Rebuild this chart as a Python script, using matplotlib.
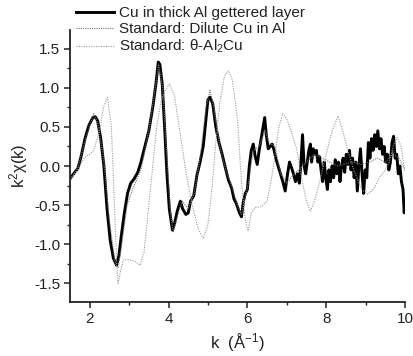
import matplotlib
matplotlib.use('Agg')
import matplotlib.pyplot as plt
from matplotlib.ticker import MultipleLocator

# EXAFS data
k_sample = [1.52, 1.62, 1.70, 1.78, 1.88, 1.98, 2.08, 2.14, 2.20, 2.28, 2.36, 2.44, 2.52, 2.60,
            2.68, 2.74, 2.80, 2.88, 2.96, 3.04, 3.12, 3.22, 3.30, 3.40, 3.50, 3.60, 3.68, 3.74,
            3.78, 3.84, 3.90, 3.96, 4.02, 4.10, 4.16, 4.22, 4.30, 4.36, 4.44, 4.50, 4.56, 4.64,
            4.72, 4.80, 4.88, 4.95, 5.00, 5.05, 5.12, 5.20, 5.28, 5.36, 5.44, 5.52, 5.60, 5.66,
            5.72, 5.80, 5.85, 5.90, 5.95, 6.00, 6.05, 6.10, 6.15, 6.20, 6.25, 6.30, 6.35, 6.40,
            6.44, 6.48, 6.53, 6.58, 6.63, 6.68, 6.72, 6.78, 6.84, 6.90, 6.96, 7.02, 7.07, 7.12,
            7.17, 7.22, 7.27, 7.32, 7.36, 7.40, 7.44, 7.48, 7.52, 7.56, 7.60, 7.63, 7.67, 7.71,
            7.75, 7.79, 7.83, 7.87, 7.91, 7.95, 7.99, 8.03, 8.07, 8.11, 8.15, 8.19, 8.23, 8.27,
            8.31, 8.35, 8.39, 8.43, 8.47, 8.51, 8.55, 8.59, 8.63, 8.67, 8.71, 8.75, 8.79, 8.83,
            8.87, 8.91, 8.95, 8.99, 9.03, 9.07, 9.11, 9.15, 9.19, 9.23, 9.27, 9.31, 9.35, 9.39,
            9.43, 9.47, 9.51, 9.55, 9.59, 9.63, 9.67, 9.71, 9.75, 9.79, 9.83, 9.87, 9.91, 9.95,
            9.98, 10.0]
chi_sample = [-0.15, -0.08, -0.03, 0.12, 0.35, 0.52, 0.62, 0.63, 0.58, 0.35, 0.0, -0.55, -0.95, -1.18,
              -1.27, -1.15, -0.9, -0.6, -0.35, -0.22, -0.17, -0.08, 0.05, 0.25, 0.45, 0.75, 1.05, 1.33,
              1.3, 1.05, 0.5, -0.1, -0.55, -0.82, -0.72, -0.58, -0.45, -0.55, -0.62, -0.6, -0.45, -0.38,
              -0.12, 0.05, 0.25, 0.6, 0.85, 0.88, 0.8, 0.5, 0.3, 0.15, -0.02, -0.18, -0.28, -0.42,
              -0.48, -0.6, -0.65, -0.45, -0.35, -0.3, 0.0, 0.2, 0.28, 0.12, 0.02, 0.2, 0.35, 0.5,
              0.62, 0.4, 0.22, 0.25, 0.28, 0.2, 0.1, 0.0, -0.1, -0.2, -0.32, -0.1, 0.05, -0.02,
              -0.1, -0.2, -0.1, -0.22, 0.05, 0.4, 0.0, -0.1, 0.05, 0.2, 0.28, 0.05, 0.22, 0.15,
              0.2, 0.05, 0.12, -0.05, -0.2, 0.05, -0.15, -0.3, -0.05, -0.2, 0.0, -0.15, 0.08, -0.1,
              0.05, -0.2, 0.0, 0.1, -0.08, 0.15, 0.02, 0.2, -0.05, 0.1, -0.15, 0.05, -0.32, 0.0,
              0.22, -0.1, -0.35, -0.05, -0.15, 0.3, 0.1, 0.35, 0.2, 0.4, 0.25, 0.45, 0.22, 0.35,
              0.15, 0.25, 0.05, 0.15, -0.05, 0.05, 0.3, 0.38, 0.1, 0.15, -0.1, 0.0, -0.2, -0.3,
              -0.6, -0.45]

k_dilute = [1.52, 1.7, 1.9, 2.1, 2.2, 2.35, 2.5, 2.65, 2.72, 2.8, 2.95, 3.1, 3.3, 3.5, 3.65,
            3.75, 3.85, 3.95, 4.05, 4.12, 4.25, 4.35, 4.5, 4.65, 4.8, 4.95, 5.05, 5.15, 5.3,
            5.45, 5.6, 5.75, 5.85, 5.95, 6.05, 6.15, 6.3, 6.45, 6.55, 6.7, 6.85, 7.0, 7.15,
            7.3, 7.5, 7.7, 7.9, 8.1, 8.3, 8.5, 8.7, 8.9, 9.1, 9.3, 9.5, 9.7, 9.85, 10.0]
chi_dilute = [-0.17, -0.02, 0.35, 0.67, 0.55, 0.1, -0.7, -1.25, -1.3, -1.05, -0.5, -0.28, -0.05, 0.45, 0.95,
              1.3, 1.0, 0.2, -0.6, -0.85, -0.6, -0.45, -0.55, -0.35, 0.1, 0.75, 0.97, 0.75, 0.25,
              -0.05, -0.25, -0.5, -0.62, -0.4, -0.15, 0.2, 0.25, 0.45, 0.3, 0.25, -0.1, -0.22, -0.12,
              -0.05, 0.05, 0.15, 0.1, 0.05, 0.0, 0.03, 0.05, 0.02, 0.05, 0.1, 0.05, 0.15, 0.1, -0.05]

k_theta = [1.5, 1.7, 1.85, 2.0, 2.1, 2.25, 2.35, 2.45, 2.55, 2.62, 2.68, 2.72, 2.78, 2.85, 3.0,
           3.15, 3.28, 3.38, 3.5, 3.6, 3.7, 3.8, 3.9, 4.02, 4.15, 4.3, 4.45, 4.6, 4.75, 4.88,
           5.0, 5.1, 5.2, 5.3, 5.42, 5.52, 5.62, 5.75, 5.85, 5.95, 6.02, 6.1, 6.2, 6.35, 6.5,
           6.6, 6.7, 6.8, 6.9, 7.0, 7.12, 7.25, 7.38, 7.5, 7.6, 7.7, 7.85, 8.0, 8.15, 8.3,
           8.42, 8.55, 8.7, 8.9, 9.05, 9.2, 9.35, 9.5, 9.6, 9.7, 9.8, 9.9, 10.0]
chi_theta = [-0.17, -0.05, 0.1, 0.15, 0.2, 0.45, 0.75, 0.88, 0.5, -0.4, -1.2, -1.5, -1.35, -1.2, -1.2,
             -1.22, -1.27, -1.1, -0.5, 0.0, 0.5, 0.8, 0.95, 1.05, 0.9, 0.4, -0.1, -0.5, -0.8, -0.93,
             -0.75, -0.3, 0.3, 0.8, 1.15, 1.22, 1.1, 0.6, -0.2, -0.7, -0.83, -0.6, -0.53, -0.52, -0.45,
             -0.2, 0.13, 0.5, 0.67, 0.6, 0.43, 0.22, -0.17, -0.45, -0.58, -0.45, -0.17, 0.15, 0.45, 0.64,
             0.45, 0.2, -0.05, -0.3, -0.36, -0.3, -0.15, -0.05, 0.05, 0.25, 0.37, 0.25, -0.08]

plt.rcParams['font.family'] = ['Liberation Sans', 'DejaVu Sans']
plt.rcParams['mathtext.fontset'] = 'custom'
plt.rcParams['mathtext.rm'] = 'Liberation Sans'
plt.rcParams['mathtext.it'] = 'Liberation Sans'
plt.rcParams['mathtext.default'] = 'regular'

fig = plt.figure(figsize=(4.13, 3.56), dpi=100)
ax = fig.add_axes([70/413, 1-302/356, 335/413, 272/356])

l1, = ax.plot(k_sample, chi_sample, color='black', lw=2.1, label='Cu in thick Al gettered layer')
l2, = ax.plot(k_dilute, chi_dilute, color='#777777', lw=0.8, ls=(0, (1, 1)), label='Standard: Dilute Cu in Al')
l3, = ax.plot(k_theta, chi_theta, color='#999999', lw=0.8, ls=(0, (1, 1.2)), label='Standard: θ-Al$_2$Cu')

ax.set_xlim(1.5, 10)
ax.set_ylim(-1.74, 1.74)
ax.xaxis.set_major_locator(MultipleLocator(2))
ax.xaxis.set_minor_locator(MultipleLocator(1))
ax.yaxis.set_major_locator(MultipleLocator(0.5))
ax.yaxis.set_minor_locator(MultipleLocator(0.25))
ax.set_yticks([-1.5, -1.0, -0.5, 0.0, 0.5, 1.0, 1.5])
ax.set_yticklabels(['-1.5', '-1.0', '-0.5', '0.0', '0.5', '1.0', '1.5'])
for s in ['top', 'right']:
    ax.spines[s].set_visible(False)
for s in ['left', 'bottom']:
    ax.spines[s].set_linewidth(1.3)
    ax.spines[s].set_color('#222222')
ax.tick_params(which='major', direction='out', length=4, width=1.1, labelsize=11,
               colors='#222222', pad=3)
ax.tick_params(which='minor', direction='out', length=2.5, width=1.0, colors='#222222')

ax.set_xlabel('k  (Å$^{-1}$)', fontsize=12, color='#222222', labelpad=4)
ax.set_ylabel('k$^2$χ(k)', fontsize=12, color='#222222', labelpad=3)

leg = fig.legend(handles=[l1, l2, l3], loc='upper left', bbox_to_anchor=(74/413, 1 - 4/356),
                 frameon=False, fontsize=11, handlelength=2.5, handletextpad=0.3,
                 labelspacing=0.12, borderpad=0.15, borderaxespad=0)
for t in leg.get_texts():
    t.set_color('#222222')

fig.savefig('out.png', dpi=100)
